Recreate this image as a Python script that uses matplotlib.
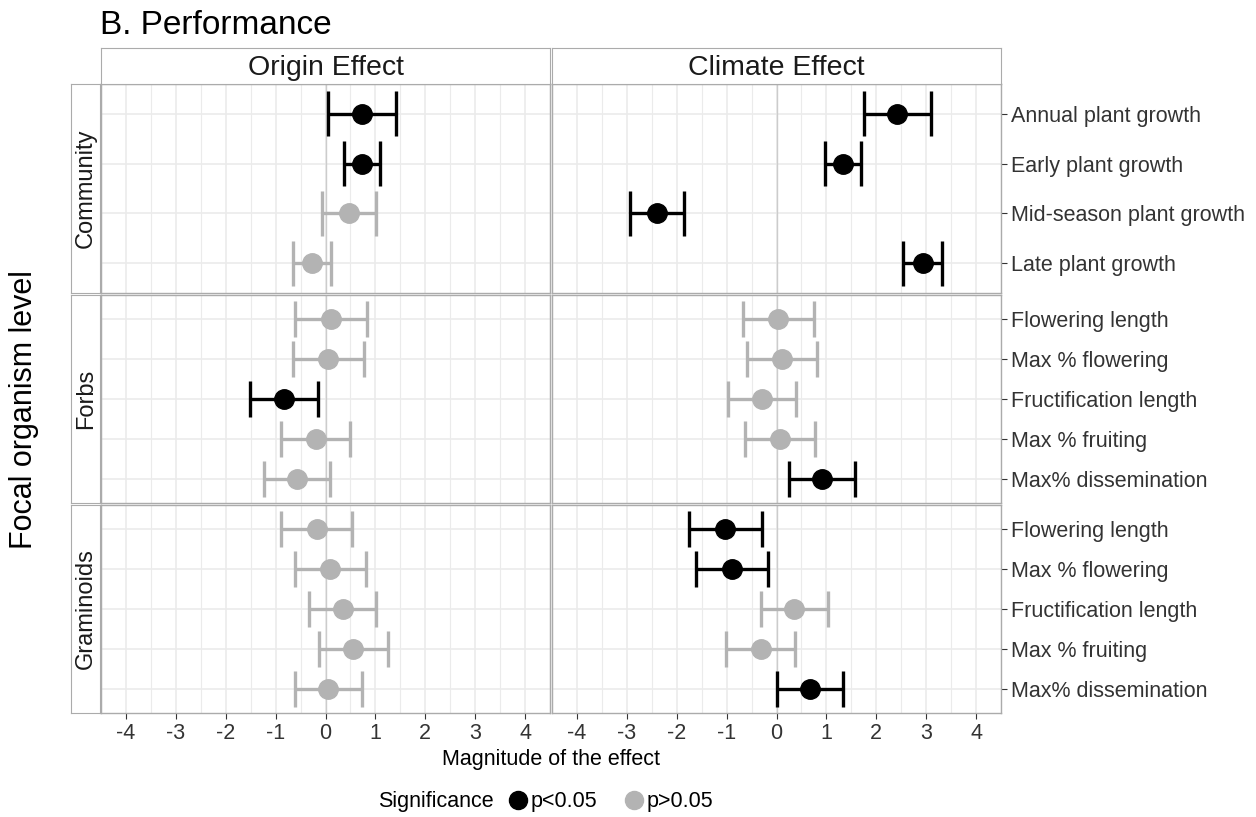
import numpy as np
import matplotlib.pyplot as plt
from matplotlib.lines import Line2D

plt.rcParams['font.family'] = ['Liberation Sans', 'DejaVu Sans']
plt.rcParams['axes.unicode_minus'] = False

# data
groups = ['Community', 'Forbs', 'Graminoids']
effects = ['Origin Effect', 'Climate Effect']

community_labels = ['Annual plant growth', 'Early plant growth', 'Mid-season plant growth', 'Late plant growth']
forbs_labels = ['Flowering length', 'Max % flowering', 'Fructification length', 'Max % fruiting', 'Max% dissemination']
graminoids_labels = ['Flowering length', 'Max % flowering', 'Fructification length', 'Max % fruiting', 'Max% dissemination']

# Origin effect
community_origin = [0.74, 0.73, 0.48, -0.27]
community_origin_lo = [0.06, 0.37, -0.07, -0.65]
community_origin_hi = [1.42, 1.10, 1.01, 0.12]
community_origin_sig = [True, True, False, False]

forbs_origin = [0.11, 0.06, -0.84, -0.20, -0.57]
forbs_origin_lo = [-0.62, -0.65, -1.52, -0.89, -1.23]
forbs_origin_hi = [0.83, 0.78, -0.15, 0.49, 0.09]
forbs_origin_sig = [False, False, True, False, False]

graminoids_origin = [-0.18, 0.10, 0.35, 0.55, 0.05]
graminoids_origin_lo = [-0.89, -0.62, -0.34, -0.14, -0.62]
graminoids_origin_hi = [0.54, 0.81, 1.02, 1.25, 0.73]
graminoids_origin_sig = [False, False, False, False, False]

# Climate effect
community_climate = [2.42, 1.33, -2.40, 2.93]
community_climate_lo = [1.75, 0.97, -2.94, 2.54]
community_climate_hi = [3.10, 1.69, -1.86, 3.31]
community_climate_sig = [True, True, True, True]

forbs_climate = [0.03, 0.11, -0.30, 0.07, 0.92]
forbs_climate_lo = [-0.68, -0.60, -0.97, -0.63, 0.25]
forbs_climate_hi = [0.75, 0.82, 0.39, 0.77, 1.58]
forbs_climate_sig = [False, False, False, False, True]

graminoids_climate = [-1.04, -0.90, 0.36, -0.31, 0.67]
graminoids_climate_lo = [-1.76, -1.61, -0.32, -1.02, 0.00]
graminoids_climate_hi = [-0.30, -0.17, 1.04, 0.38, 1.34]
graminoids_climate_sig = [True, True, False, False, True]

labels = [community_labels, forbs_labels, graminoids_labels]
panels = {
    (0, 0): (community_origin, community_origin_lo, community_origin_hi, community_origin_sig),
    (1, 0): (forbs_origin, forbs_origin_lo, forbs_origin_hi, forbs_origin_sig),
    (2, 0): (graminoids_origin, graminoids_origin_lo, graminoids_origin_hi, graminoids_origin_sig),
    (0, 1): (community_climate, community_climate_lo, community_climate_hi, community_climate_sig),
    (1, 1): (forbs_climate, forbs_climate_lo, forbs_climate_hi, forbs_climate_sig),
    (2, 1): (graminoids_climate, graminoids_climate_lo, graminoids_climate_hi, graminoids_climate_sig),
}

sig_colors = {True: 'black', False: '#B3B3B3'}
border = '#ABABAB'

W, H = 1256, 817
fig = plt.figure(figsize=(W / 100, H / 100), dpi=100)

def rect(x0, y0, x1, y1):
    return [x0 / W, 1 - y1 / H, (x1 - x0) / W, (y1 - y0) / H]

col_x = [(101, 550), (552, 1001)]
row_y = [(84, 293), (295, 503), (505, 713)]

for r in range(3):
    n = len(labels[r])
    ypos = np.arange(n, 0, -1)
    for c in range(2):
        ax = fig.add_axes(rect(col_x[c][0], row_y[r][0], col_x[c][1], row_y[r][1]))
        est, lo, hi, sig = panels[(r, c)]
        ax.axvline(0, color='#CCCCCC', lw=1.0, zorder=1)
        for i in range(n):
            col = sig_colors[sig[i]]
            ax.hlines(ypos[i], lo[i], hi[i], color=col, lw=2.4, zorder=2)
            ax.vlines([lo[i], hi[i]], ypos[i] - 0.45, ypos[i] + 0.45, color=col, lw=2.4, zorder=2)
            ax.plot(est[i], ypos[i], 'o', ms=14, color=col, zorder=3)
        ax.set_xlim(-4.38, 4.36)
        ax.set_ylim(0.4, n + 0.6)
        ax.set_xticks(np.arange(-4, 5, 1))
        ax.set_xticks(np.arange(-4.5, 4.6, 1), minor=True)
        ax.set_yticks(ypos)
        ax.grid(which='major', color='#EBEBEB', lw=1.2, zorder=0)
        ax.grid(which='minor', axis='x', color='#EBEBEB', lw=0.8, zorder=0)
        ax.set_axisbelow(True)
        for s in ax.spines.values():
            s.set_color(border)
            s.set_linewidth(1.0)
        ax.tick_params(which='minor', length=0)
        if r == 2:
            ax.tick_params(axis='x', which='major', length=4, color='#333333',
                           labelsize=15.5, labelcolor='#333333', pad=3)
        else:
            ax.tick_params(axis='x', which='major', length=0, labelbottom=False)
        if c == 1:
            ax.yaxis.tick_right()
            ax.set_yticklabels(labels[r])
            ax.tick_params(axis='y', which='major', length=4, color='#333333',
                           labelsize=15.5, labelcolor='#333333', pad=3)
        else:
            ax.tick_params(axis='y', which='major', length=0, labelleft=False)

    # row strip on the left
    sax = fig.add_axes(rect(71, row_y[r][0], 100, row_y[r][1]))
    sax.set_xticks([])
    sax.set_yticks([])
    for s in sax.spines.values():
        s.set_color(border)
    sax.text(0.52, 0.5, groups[r], rotation=90, ha='center', va='center',
             fontsize=17, color='#1A1A1A', transform=sax.transAxes)

# column strips on top
for c in range(2):
    sax = fig.add_axes(rect(col_x[c][0], 48, col_x[c][1], 84))
    sax.set_xticks([])
    sax.set_yticks([])
    for s in sax.spines.values():
        s.set_color(border)
    sax.text(0.5, 0.44, effects[c], ha='center', va='center',
             fontsize=20.5, color='#1A1A1A', transform=sax.transAxes)

fig.text(100 / W, 1 - 26 / H, 'B. Performance', fontsize=24, ha='left', va='center')
fig.text(24 / W, 1 - 410 / H, 'Focal organism level', fontsize=22, rotation=90,
         ha='center', va='center')
fig.text(551 / W, 1 - 760 / H, 'Magnitude of the effect', fontsize=15.5,
         ha='center', va='center')

# legend
fig.text(378 / W, 1 - 802 / H, 'Significance', fontsize=15.5, ha='left', va='center')
handles = [Line2D([], [], ls='none', marker='o', ms=13, color=sig_colors[True]),
           Line2D([], [], ls='none', marker='o', ms=13, color=sig_colors[False])]
fig.legend(handles, ['p<0.05', 'p>0.05'], ncol=2, frameon=False, fontsize=15.5,
           loc='center left', bbox_to_anchor=(507 / W, 1 - 802 / H),
           handlelength=1.0, handletextpad=0.1, columnspacing=1.2, borderpad=0,
           borderaxespad=0)

fig.savefig('out.png', dpi=100)
